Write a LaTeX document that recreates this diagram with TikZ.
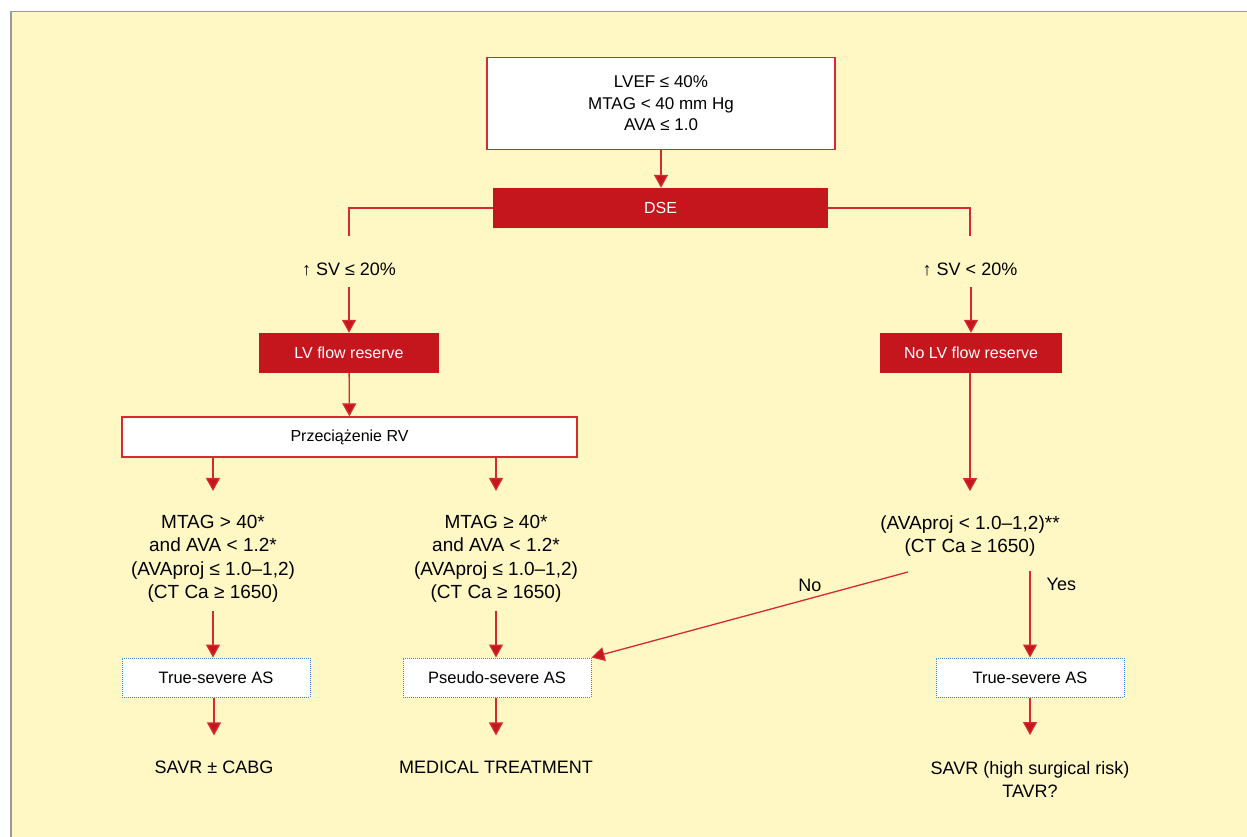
\documentclass[tikz,border=0pt]{standalone}
\usepackage{fontspec}
\setmainfont{Liberation Sans}
\usetikzlibrary{positioning, arrows.meta}
\definecolor{panelyellow}{HTML}{FFF8C4}
\definecolor{panelgray}{HTML}{9A9A9A}
\definecolor{flowred}{HTML}{C4161C}
\definecolor{linered}{HTML}{D42A30}
\definecolor{dotblue}{HTML}{3F8DC0}

\begin{document}
\begin{tikzpicture}[
    x=1pt, y=-1pt,
    box_white/.style={draw=linered, fill=white, line width=1.4pt, minimum height=40pt, inner sep=0pt, font=\fontsize{16}{20}\selectfont},
    box_red/.style={draw=none, fill=flowred, text=white, minimum height=40pt, inner sep=0pt, font=\fontsize{16}{20}\selectfont},
    box_dot/.style={draw=dotblue, fill=white, line width=1pt, dash pattern=on 1pt off 1pt, minimum width=188pt, minimum height=39pt, inner sep=0pt, font=\fontsize{16.5}{20}\selectfont},
    txt_free/.style={inner sep=0pt, align=center, text=black, font=\fontsize{18}{23.5}\selectfont},
    txt_crit/.style={txt_free, font=\fontsize{19}{23.5}\selectfont},
    edge_line/.style={draw=linered, line width=1.3pt},
    edge_arrow/.style={draw=linered, line width=1.3pt, -{Triangle[width=14pt, length=13pt, fill=flowred]}}
  ]
    \useasboundingbox (0,0) rectangle (1247,837);
    \fill[panelyellow] (10,11) rectangle (1247,837);
    \draw[panelgray, line width=1.5pt] (10.75,837) -- (10.75,11.75) -- (1247,11.75);

    \node[box_white, minimum width=348pt, minimum height=92pt, align=center, font=\fontsize{17}{21.5}\selectfont] (top) at (661,103.5) {LVEF ≤ 40\%\\MTAG < 40 mm Hg\\AVA ≤ 1.0};
    \node[box_red, minimum width=335pt] (dse) at (660.5,208) {DSE};

    \node[txt_free] (sv_up) at (349,269) {↑ SV ≤ 20\%};
    \node[txt_free] (sv_down) at (970,269) {↑ SV < 20\%};

    \node[box_red, minimum width=180pt] (lvfr) at (349,353) {LV flow reserve};
    \node[box_red, minimum width=182pt] (nolvfr) at (971,353) {No LV flow reserve};

    \node[box_white, minimum width=455pt] (rv) at (349.5,437) {Przeciążenie RV};

    \node[txt_crit] (crit_a) at (213,559) {MTAG > 40*\\and AVA < 1.2*\\(AVAproj ≤ 1.0–1,2)\\(CT Ca ≥ 1650)};
    \node[txt_crit] (crit_b) at (496,559) {MTAG ≥ 40*\\and AVA < 1.2*\\(AVAproj ≤ 1.0–1,2)\\(CT Ca ≥ 1650)};
    \node[txt_crit] (crit_c) at (970,536) {(AVAproj < 1.0–1,2)**\\(CT Ca ≥ 1650)};

    \node[box_dot] (true_a) at (216,677.5) {True-severe AS};
    \node[box_dot] (pseudo) at (497,677.5) {Pseudo-severe AS};
    \node[box_dot] (true_c) at (1030,677.5) {True-severe AS};

    \node[txt_free] (treat_a) at (214,767) {SAVR ± CABG};
    \node[txt_free] (treat_b) at (496,767) {MEDICAL TREATMENT};
    \node[txt_free] (treat_c) at (1030,779.5) {SAVR (high surgical risk)\\TAVR?};

    \coordinate (no_start) at (908,572);

    % top part
    \draw[edge_arrow] (top.south) -- (top.south |- dse.north);
    \draw[edge_line, shorten >=26pt] (dse.west) -| (sv_up.north);
    \draw[edge_line, shorten >=26pt] (dse.east) -| (sv_down.north);
    \draw[edge_arrow, shorten <=11pt] (sv_up) -- (lvfr);
    \draw[edge_arrow, shorten <=11pt] (sv_down.south -| nolvfr) -- (nolvfr.north);

    % left branch
    \draw[edge_arrow] (lvfr) -- (rv);
    \draw[edge_arrow, shorten >=24pt] (rv.south -| crit_a) -- (crit_a.north);
    \draw[edge_arrow, shorten >=24pt] (rv.south -| crit_b) -- (crit_b.north);
    \draw[edge_arrow, shorten <=8pt] (crit_a.south) -- (crit_a.south |- true_a.north);
    \draw[edge_arrow, shorten <=8pt] (crit_b.south) -- (crit_b.south |- pseudo.north);
    \draw[edge_arrow, shorten >=25pt] (true_a.south -| treat_a) -- (treat_a.north);
    \draw[edge_arrow, shorten >=25pt] (pseudo.south -| treat_b) -- (treat_b.north);

    % right branch
    \draw[edge_arrow, shorten >=24pt] (nolvfr.south -| crit_c) -- (crit_c.north);
    \draw[edge_arrow] (no_start) -- (pseudo.north east)
      node[txt_free, pos=0.31, above=6pt] (no_lbl) {No};
    \draw[edge_arrow, shorten <=14pt] (crit_c.south -| true_c) -- (true_c.north)
      node[txt_free, pos=0.27, right=16pt] (yes_lbl) {Yes};
    \draw[edge_arrow, shorten >=26pt] (true_c.south) -- (treat_c.north);
  \end{tikzpicture}
\end{document}
